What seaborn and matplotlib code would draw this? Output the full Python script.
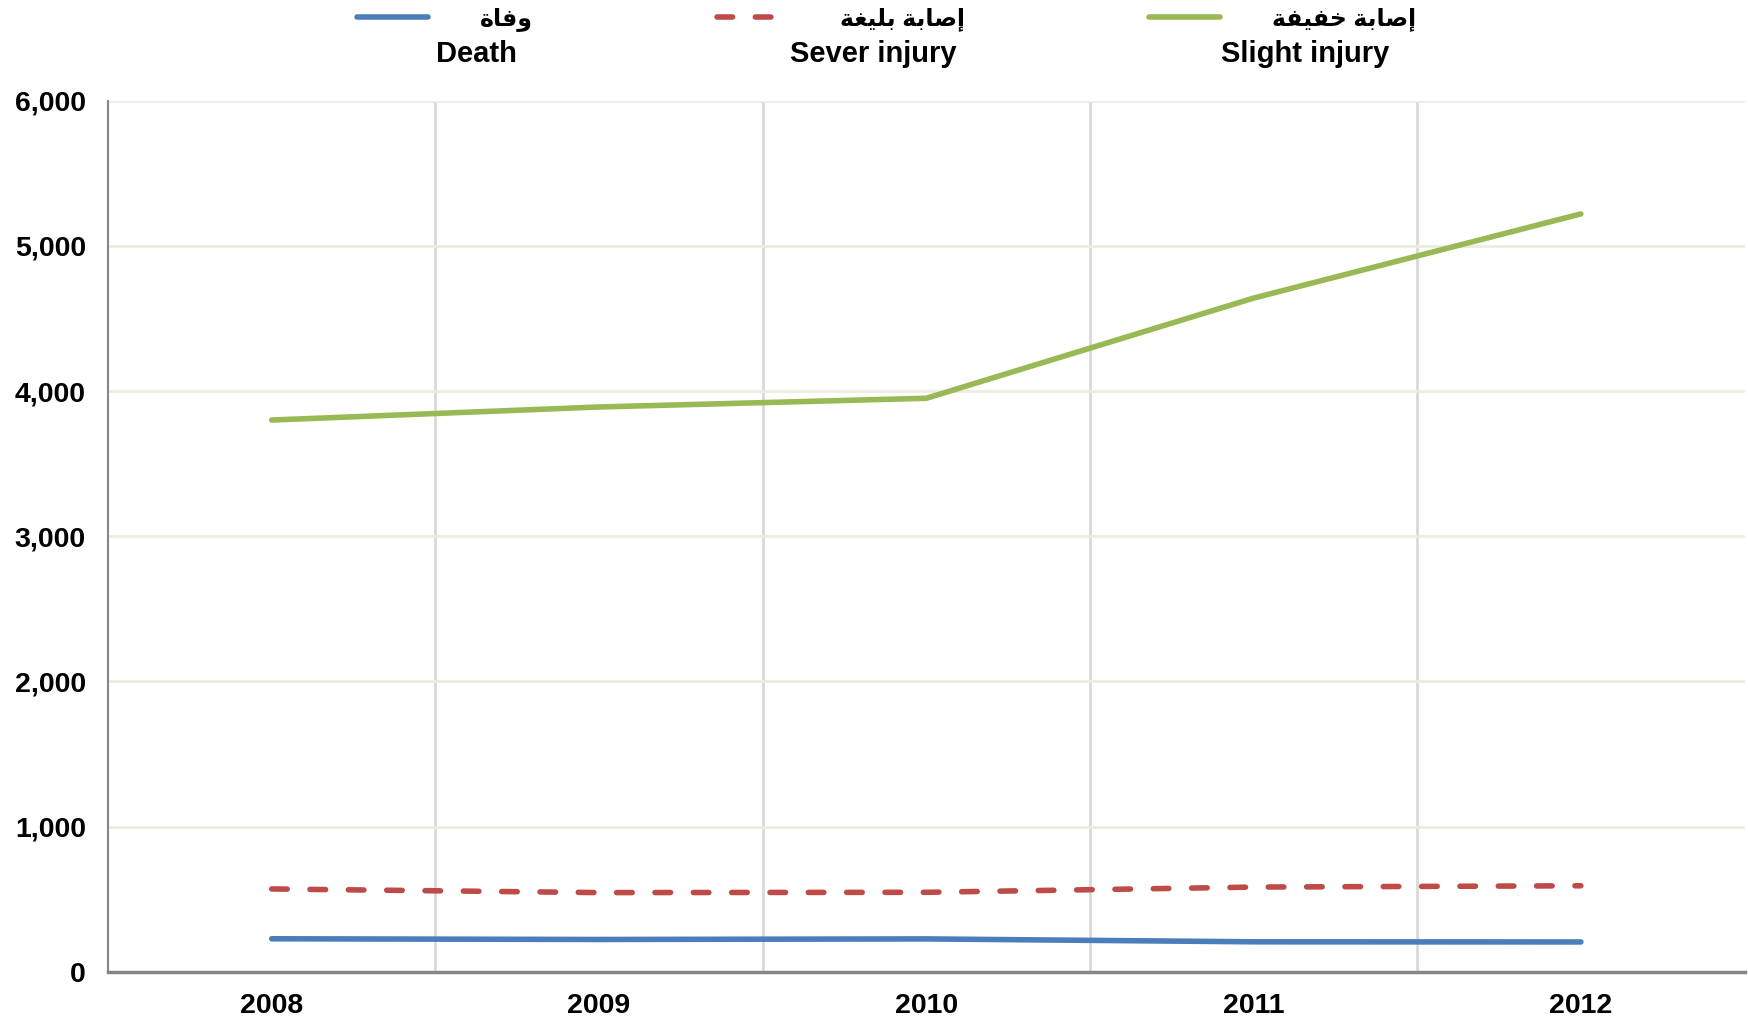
import pandas as pd
import matplotlib.pyplot as plt
import seaborn as sns
from matplotlib.lines import Line2D
from matplotlib.ticker import FuncFormatter, FixedLocator


YEARS = ['2008', '2009', '2010', '2011', '2012']
DEATH = [227, 222, 226, 206, 205]
SEVER = [570, 545, 547, 583, 592]
SLIGHT = [3800, 3890, 3950, 4640, 5220]

SERIES_EN = ['Death', 'Sever injury', 'Slight injury']
SERIES_AR = ['وفاة', 'إصابة بليغة', 'إصابة خفيفة']
COLORS = ['#4A7EBB', '#BE4B48', '#98B954']

# isolated, final, initial, medial presentation forms
FORMS = {
    'ا': ('\uFE8D', '\uFE8E', None, None),
    'إ': ('\uFE87', '\uFE88', None, None),
    'و': ('\uFEED', '\uFEEE', None, None),
    'ة': ('\uFE93', '\uFE94', None, None),
    'ب': ('\uFE8F', '\uFE90', '\uFE91', '\uFE92'),
    'ص': ('\uFEB9', '\uFEBA', '\uFEBB', '\uFEBC'),
    'ف': ('\uFED1', '\uFED2', '\uFED3', '\uFED4'),
    'ي': ('\uFEF1', '\uFEF2', '\uFEF3', '\uFEF4'),
    'غ': ('\uFECD', '\uFECE', '\uFECF', '\uFED0'),
    'خ': ('\uFEA5', '\uFEA6', '\uFEA7', '\uFEA8'),
    'ل': ('\uFEDD', '\uFEDE', '\uFEDF', '\uFEE0'),
}


def shape_arabic(text):
    out = []
    for i, ch in enumerate(text):
        if ch not in FORMS:
            out.append(ch)
            continue
        prev = text[i - 1] if i > 0 else ''
        nxt = text[i + 1] if i + 1 < len(text) else ''
        join_prev = prev in FORMS and FORMS[prev][2] is not None
        join_next = FORMS[ch][2] is not None and nxt in FORMS
        iso, fin, ini, med = FORMS[ch]
        if join_prev and join_next:
            out.append(med)
        elif join_prev:
            out.append(fin)
        elif join_next:
            out.append(ini)
        else:
            out.append(iso)
    return ''.join(reversed(out))


df = pd.DataFrame({
    'year': YEARS * 3,
    'value': DEATH + SEVER + SLIGHT,
    'series': [s for s in SERIES_EN for _ in YEARS],
})

sns.set_theme(style='white')
plt.rcParams['font.family'] = ['Liberation Sans', 'DejaVu Sans']
plt.rcParams['text.color'] = 'black'
plt.rcParams['xtick.color'] = 'black'
plt.rcParams['ytick.color'] = 'black'

LW = 4.0
DASH = (2.8, 4.1)

fig = plt.figure(figsize=(17.48, 10.22), dpi=100)
ax = fig.add_axes([0.0618, 0.0492, 0.9362, 0.8523])

sns.lineplot(
    data=df, x='year', y='value', hue='series', style='series',
    palette=dict(zip(SERIES_EN, COLORS)),
    dashes={'Death': '', 'Sever injury': DASH, 'Slight injury': ''},
    linewidth=LW, legend=False, ax=ax
)
for line in ax.lines:
    line.set_dash_capstyle('round')
    line.set_solid_capstyle('round')

ax.set_xlim(-0.5, 4.5)
ax.set_ylim(0, 6000)
ax.set_yticks(range(0, 6001, 1000))
ax.yaxis.set_major_formatter(FuncFormatter(lambda v, p: f'{int(v):,}'))
ax.xaxis.set_minor_locator(FixedLocator([0.5, 1.5, 2.5, 3.5]))
ax.grid(axis='y', which='major', color='#EEECE1', linewidth=2)
ax.grid(axis='x', which='minor', color='#D9D9D9', linewidth=2)
ax.set_axisbelow(True)
ax.set_xlabel('')
ax.set_ylabel('')

for side in ['top', 'right']:
    ax.spines[side].set_visible(False)
ax.spines['left'].set_color('#868686')
ax.spines['left'].set_linewidth(1.5)
ax.spines['bottom'].set_color('#868686')
ax.spines['bottom'].set_linewidth(2.5)

ax.tick_params(axis='both', which='both', length=0, labelsize=20.5)
ax.tick_params(axis='y', pad=16)
ax.tick_params(axis='x', pad=15)
for lbl in ax.get_xticklabels() + ax.get_yticklabels():
    lbl.set_fontweight('bold')

handles = [
    Line2D([], [], color=COLORS[0], lw=LW, solid_capstyle='round'),
    Line2D([], [], color=COLORS[1], lw=LW, dashes=DASH, dash_capstyle='round'),
    Line2D([], [], color=COLORS[2], lw=LW, solid_capstyle='round'),
]
fig.legend(
    handles, [shape_arabic(s) for s in SERIES_AR],
    loc='center', bbox_to_anchor=(0.507, 1 - 19 / 1022), ncol=3,
    frameon=False, handlelength=3.0, handletextpad=2.2, columnspacing=7.8,
    prop={'weight': 'bold', 'size': 17}
)

en_x = [476, 873, 1305]
for x, name in zip(en_x, SERIES_EN):
    fig.text(x / 1748, 1 - 54 / 1022, name, ha='center', va='center',
             fontsize=21, fontweight='bold')

fig.savefig('out.png', dpi=100)
